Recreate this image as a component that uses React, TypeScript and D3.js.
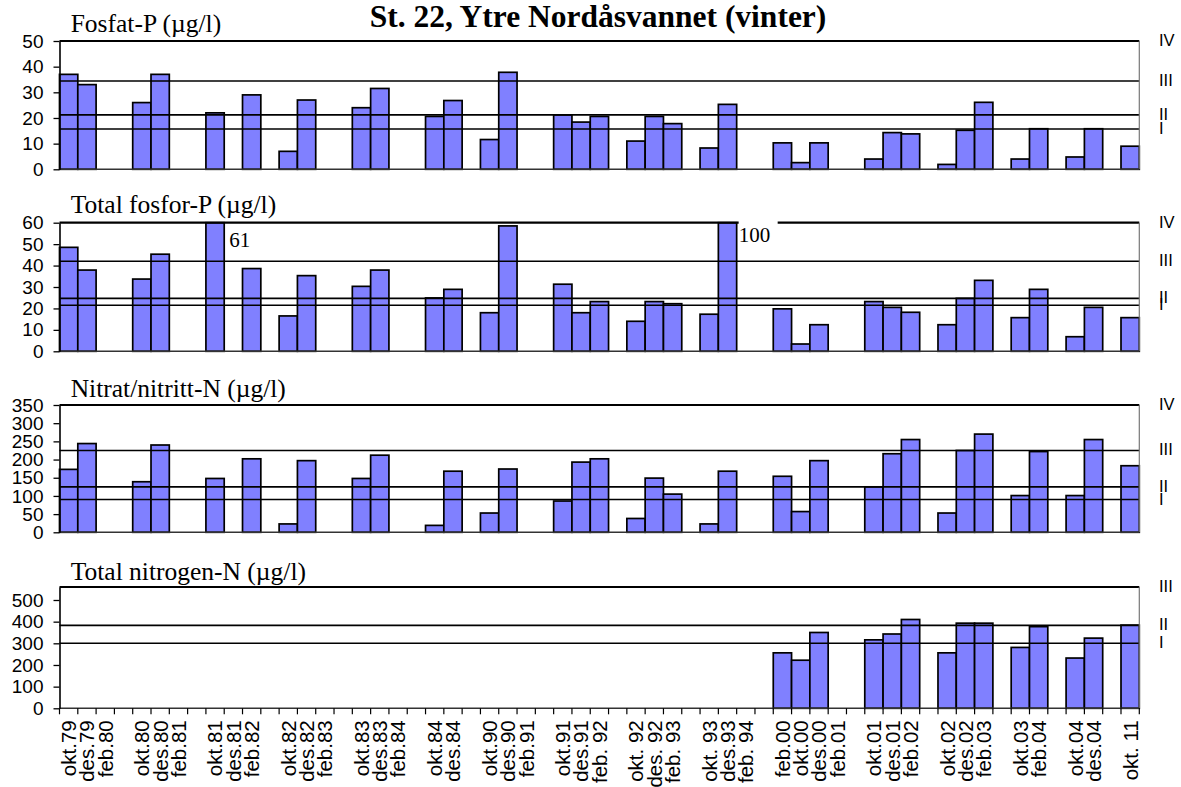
import React, { useEffect, useRef } from "react";
import * as d3 from "d3";

// x categories, "" = empty spacer column between winters
const categories = [
  "okt.79", "des.79", "feb.80", "",
  "okt.80", "des.80", "feb.81", "",
  "okt.81", "des.81", "feb.82", "",
  "okt.82", "des.82", "feb.83", "",
  "okt.83", "des.83", "feb.84", "",
  "okt.84", "des.84", "",
  "okt.90", "des.90", "feb.91", "",
  "okt.91", "des.91", "feb. 92", "",
  "okt. 92", "des. 92", "feb. 93", "",
  "okt. 93", "des.93", "feb. 94", "",
  "feb.00", "okt.00", "des.00", "feb.01", "",
  "okt.01", "des.01", "feb.02", "",
  "okt.02", "des.02", "feb.03", "",
  "okt.03", "feb.04", "",
  "okt.04", "des.04", "",
  "okt. 11",
];

const _ = null;

const fosfatP = [
  37, 33, _, _,
  26, 37, _, _,
  22, _, 29, _,
  7, 27, _, _,
  24, 31.5, _, _,
  20.6, 26.8, _,
  11.6, 37.8, _, _,
  21.2, 18.4, 20.6, _,
  11, 20.6, 17.8, _,
  8.3, 25.3, _, _,
  10.3, 2.6, 10.3, _, _,
  4, 14.3, 13.8, _,
  1.9, 15.2, 26.1, _,
  4, 15.8, _,
  4.8, 15.8, _,
  9,
];

const totalP = [
  48.5, 37.9, _, _,
  33.7, 45.3, _, _,
  61, _, 38.6, _,
  16.5, 35.3, _, _,
  30.3, 37.9, _, _,
  24.9, 28.9, _,
  18, 58.5, _, _,
  31.3, 18, 23.2, _,
  14, 23.2, 22.2, _,
  17.3, 100, _, _,
  19.8, 3.4, 12.4, _, _,
  23.2, 20.5, 18.2, _,
  12.4, 24.7, 33.1, _,
  15.7, 28.9, _,
  6.8, 20.5, _,
  15.7,
];

const nitrat = [
  173, 244, _, _,
  139, 240, _, _,
  148, _, 202, _,
  23, 197, _, _,
  148, 212, _, _,
  19, 168, _,
  53, 174, _, _,
  86, 193, 202, _,
  38, 149, 105, _,
  23, 168, _, _,
  154, 57, 197, _, _,
  125, 216, 255, _,
  53, 225, 270, _,
  101, 222, _,
  101, 255, _,
  183,
];

const totalN = [
  _, _, _, _,
  _, _, _, _,
  _, _, _, _,
  _, _, _, _,
  _, _, _, _,
  _, _, _,
  _, _, _, _,
  _, _, _, _,
  _, _, _, _,
  _, _, _, _,
  256, 222, 350, _, _,
  316, 343, 410, _,
  256, 393, 393, _,
  281, 377, _,
  232, 324, _,
  384,
];

// class limits (tilstandsklasser) and their labels
const fosfatLimits = [15.7, 21.2, 34.4];
const totalPLimits = [21.5, 24.7, 42];
const nitratLimits = [90, 125, 225];
const totalNLimits = [300, 383];
const classNames = ["I", "II", "III", "IV"];

const serif = "'Liberation Serif','Times New Roman',serif";
const sans = "'Liberation Sans',Arial,sans-serif";

export default function App() {
  const ref = useRef<SVGSVGElement>(null);

  useEffect(() => {
    const svg = d3.select(ref.current);
    svg.selectAll("*").remove();

    const left = 59.5, right = 1139.3;
    const x = d3.scaleBand<number>()
      .domain(d3.range(categories.length))
      .range([left, right])
      .padding(0);
    const bw = x.bandwidth();

    const panels = [
      { title: "Fosfat-P (µg/l)", values: fosfatP, max: 50, step: 10, limits: fosfatLimits, top: 41, bottom: 169.3, titleY: 32.3 },
      { title: "Total fosfor-P (µg/l)", values: totalP, max: 60, step: 10, limits: totalPLimits, top: 222.7, bottom: 351.3, titleY: 213.3 },
      { title: "Nitrat/nitritt-N (µg/l)", values: nitrat, max: 350, step: 50, limits: nitratLimits, top: 405, bottom: 532.3, titleY: 397.3 },
      { title: "Total nitrogen-N (µg/l)", values: totalN, max: 560, step: 100, limits: totalNLimits, top: 587, bottom: 708.3, titleY: 580 },
    ];

    svg.append("text")
      .attr("x", 598).attr("y", 26.7)
      .attr("text-anchor", "middle")
      .attr("font-family", serif).attr("font-size", 31.5).attr("font-weight", "bold")
      .text("St. 22, Ytre Nordåsvannet (vinter)");

    panels.forEach((p, pi) => {
      const y = d3.scaleLinear().domain([0, p.max]).range([p.bottom, p.top]);
      const g = svg.append("g");

      g.append("text")
        .attr("x", 70.7).attr("y", p.titleY)
        .attr("font-family", serif).attr("font-size", 25.5)
        .text(p.title);

      const data = p.values
        .map((v, i) => ({ v, i }))
        .filter(d => d.v != null) as { v: number; i: number }[];

      g.selectAll(".bar").data(data).join("rect")
        .attr("class", "bar")
        .attr("x", d => x(d.i)!)
        .attr("width", bw)
        .attr("y", d => y(Math.min(d.v, p.max)))
        .attr("height", d => y(0) - y(Math.min(d.v, p.max)))
        .attr("fill", "#8080ff")
        .attr("stroke", "#000")
        .attr("stroke-width", 1.7);

      g.selectAll(".limit").data(p.limits).join("line")
        .attr("class", "limit")
        .attr("x1", left).attr("x2", right)
        .attr("y1", d => y(d)).attr("y2", d => y(d))
        .attr("stroke", "#000").attr("stroke-width", 1.6);

      // frame
      g.append("line").attr("x1", left).attr("x2", right).attr("y1", p.top).attr("y2", p.top)
        .attr("stroke", "#000").attr("stroke-width", 2.2);
      g.append("line").attr("x1", right).attr("x2", right).attr("y1", p.top).attr("y2", p.bottom)
        .attr("stroke", "#777").attr("stroke-width", 1.2);
      g.append("line").attr("x1", left).attr("x2", right).attr("y1", p.bottom).attr("y2", p.bottom)
        .attr("stroke", "#333").attr("stroke-width", 1.5);

      // values off the scale get written next to the bar
      data.filter(d => d.v > p.max).forEach(d => {
        const tx = x(d.i)! + bw + 2;
        if (d.v >= 100) {
          g.append("rect").attr("x", tx).attr("y", p.top - 3).attr("width", 39).attr("height", 26).attr("fill", "#fff");
        }
        g.append("text")
          .attr("x", d.v >= 100 ? tx : tx + 3)
          .attr("y", p.top + (d.v >= 100 ? 19 : 24))
          .attr("font-family", serif).attr("font-size", 21)
          .text(d.v);
      });

      const yAxis = g.append("g")
        .attr("transform", `translate(${left},0)`)
        .call(d3.axisLeft(y).tickValues(d3.range(0, p.max + 0.01, p.step)).tickSize(6).tickPadding(10).tickSizeOuter(0));
      yAxis.select(".domain").attr("stroke", "#000").attr("stroke-width", 1.6);
      yAxis.selectAll(".tick line").attr("stroke", "#000").attr("stroke-width", 1.3);
      yAxis.selectAll(".tick text")
        .attr("font-family", sans).attr("font-size", 19).attr("fill", "#000");

      // class labels on the right
      const levels = [...p.limits, p.max];
      g.selectAll(".cls").data(levels).join("text")
        .attr("class", "cls")
        .attr("x", 1159).attr("y", d => y(d) - 1)
        .attr("dy", "0.36em")
        .attr("font-family", sans).attr("font-size", 16.5)
        .text((d, i) => classNames[i]);

      if (pi === panels.length - 1) {
        const ticks = d3.range(categories.length + 1).map(i => left + i * bw);
        g.selectAll(".xtick").data(ticks).join("line")
          .attr("class", "xtick")
          .attr("x1", d => d).attr("x2", d => d)
          .attr("y1", p.bottom).attr("y2", p.bottom + 6)
          .attr("stroke", "#000").attr("stroke-width", 1.2);
        g.selectAll(".xlab").data(categories.map((c, i) => ({ c, i })).filter(d => d.c !== "")).join("text")
          .attr("class", "xlab")
          .attr("transform", d => `translate(${x(d.i)! + bw / 2},${p.bottom + 12}) rotate(-90)`)
          .attr("text-anchor", "end")
          .attr("dy", "0.36em")
          .attr("font-family", sans).attr("font-size", 20.5)
          .text(d => d.c);
      }
    });
  }, []);

  return (
    <svg ref={ref} width={1181} height={787}
      style={{ position: "absolute", left: 0, top: 0, background: "#fff" }} />
  );
}
